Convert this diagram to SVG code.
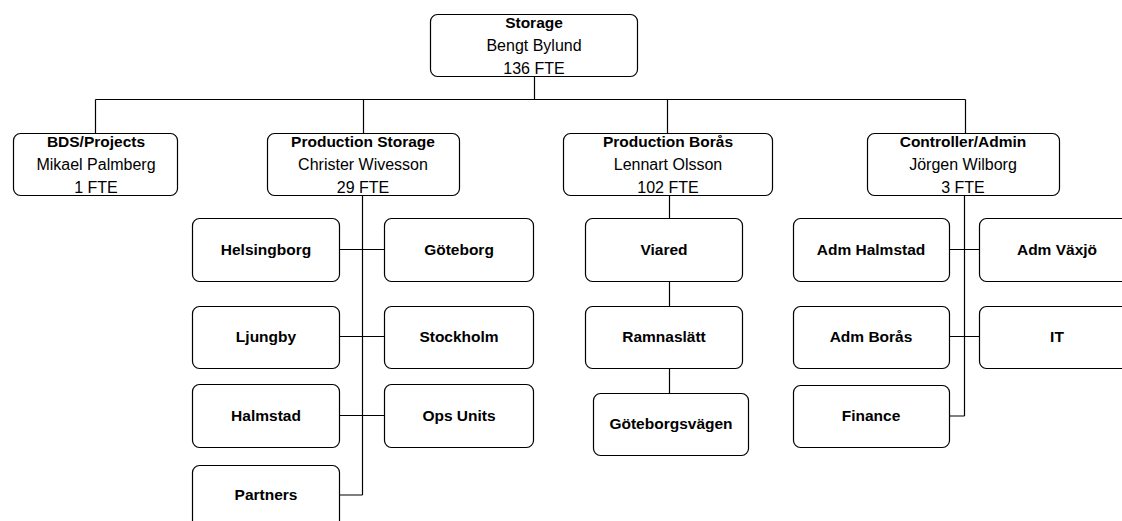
<svg xmlns="http://www.w3.org/2000/svg" width="1122" height="521" viewBox="0 0 1122 521">
<style>
rect.b{fill:#fff;stroke:#000;stroke-width:1.2}
text{font-family:"Liberation Sans",Arial,sans-serif;font-size:16px;text-anchor:middle;fill:#000}
.t{font-weight:bold;font-size:15.5px}
#connectors path{fill:none;stroke:#000;stroke-width:1.2}
</style>
<rect width="1122" height="521" fill="#fff"/>
<g id="connectors">
<path d="M534.5 77V99.5M95.5 99.5H965.5M95.5 99.5V133M363.5 99.5V133M667.5 99.5V133M965.5 99.5V133"/>
<path d="M362.5 196V495M339 249.5H384M339 336.5H384M339 415.5H384M339 495H362.5"/>
<path d="M669.5 196V218M669.5 281V306M669.5 368V393"/>
<path d="M964.5 196V416M949 249.5H979M949 336.5H979M949 416H964.5"/>
</g>
<g id="storage"><rect class="b" x="430.5" y="14.5" width="207" height="62" rx="7"/><text class="t" x="534" y="28">Storage</text><text x="534" y="51">Bengt Bylund</text><text x="534" y="74">136 FTE</text></g>
<g id="bds"><rect class="b" x="13.5" y="133.5" width="164" height="62" rx="7"/><text class="t" x="96" y="147">BDS/Projects</text><text x="96" y="170">Mikael Palmberg</text><text x="96" y="193">1 FTE</text></g>
<g id="prodstorage"><rect class="b" x="267.5" y="133.5" width="192" height="62" rx="7"/><text class="t" x="363" y="147">Production Storage</text><text x="363" y="170">Christer Wivesson</text><text x="363" y="193">29 FTE</text></g>
<g id="prodboras"><rect class="b" x="563.5" y="133.5" width="209" height="62" rx="7"/><text class="t" x="668" y="147">Production Borås</text><text x="668" y="170">Lennart Olsson</text><text x="668" y="193">102 FTE</text></g>
<g id="controller"><rect class="b" x="867.5" y="133.5" width="192" height="62" rx="7"/><text class="t" x="963" y="147">Controller/Admin</text><text x="963" y="170">Jörgen Wilborg</text><text x="963" y="193">3 FTE</text></g>
<g id="helsingborg"><rect class="b" x="192.5" y="218.5" width="147" height="63" rx="7"/><text class="t" x="266" y="255">Helsingborg</text></g>
<g id="goteborg"><rect class="b" x="384.5" y="218.5" width="149" height="63" rx="7"/><text class="t" x="459" y="255">Göteborg</text></g>
<g id="ljungby"><rect class="b" x="192.5" y="306.5" width="147" height="62" rx="7"/><text class="t" x="266" y="342">Ljungby</text></g>
<g id="stockholm"><rect class="b" x="384.5" y="306.5" width="149" height="62" rx="7"/><text class="t" x="459" y="342">Stockholm</text></g>
<g id="halmstad"><rect class="b" x="192.5" y="384.5" width="147" height="63" rx="7"/><text class="t" x="266" y="421">Halmstad</text></g>
<g id="opsunits"><rect class="b" x="384.5" y="384.5" width="149" height="63" rx="7"/><text class="t" x="459" y="421">Ops Units</text></g>
<g id="partners"><rect class="b" x="192.5" y="465.5" width="147" height="63" rx="7"/><text class="t" x="266" y="500">Partners</text></g>
<g id="viared"><rect class="b" x="585.5" y="218.5" width="157" height="63" rx="7"/><text class="t" x="664" y="255">Viared</text></g>
<g id="ramnaslatt"><rect class="b" x="585.5" y="306.5" width="157" height="62" rx="7"/><text class="t" x="664" y="342">Ramnaslätt</text></g>
<g id="goteborgsvagen"><rect class="b" x="593.5" y="393.5" width="155" height="62" rx="7"/><text class="t" x="671" y="429">Göteborgsvägen</text></g>
<g id="admhalmstad"><rect class="b" x="793.5" y="218.5" width="156" height="63" rx="7"/><text class="t" x="871" y="255">Adm Halmstad</text></g>
<g id="admvaxjo"><rect class="b" x="979.5" y="218.5" width="156" height="63" rx="7"/><text class="t" x="1057" y="255">Adm Växjö</text></g>
<g id="admboras"><rect class="b" x="793.5" y="306.5" width="156" height="62" rx="7"/><text class="t" x="871" y="342">Adm Borås</text></g>
<g id="it"><rect class="b" x="979.5" y="306.5" width="156" height="62" rx="7"/><text class="t" x="1057" y="342">IT</text></g>
<g id="finance"><rect class="b" x="793.5" y="385.5" width="156" height="62" rx="7"/><text class="t" x="871" y="421">Finance</text></g>
</svg>
